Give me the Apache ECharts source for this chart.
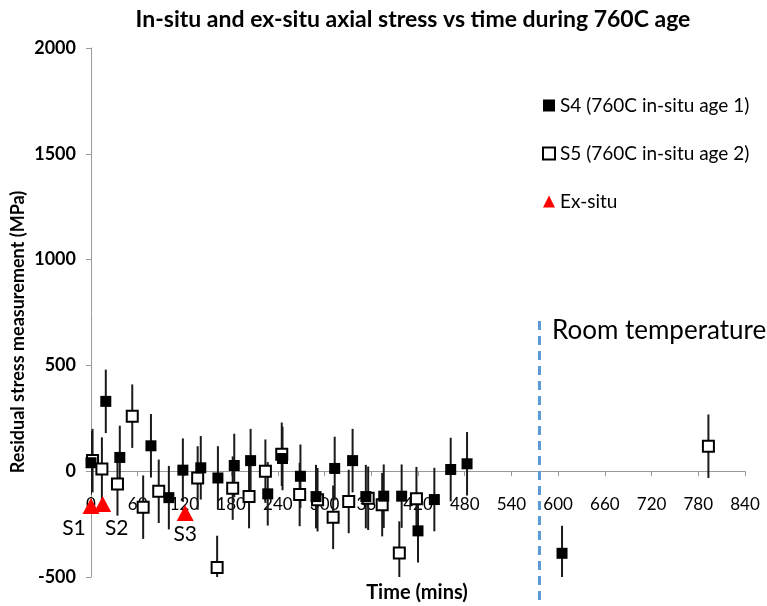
<!DOCTYPE html>
<html>
<head>
<meta charset="utf-8">
<script src="https://cdn.jsdelivr.net/npm/echarts@6/dist/echarts.min.js"></script>
<style>
  html, body { margin: 0; padding: 0; background: #fff; }
  #chart { width: 767px; height: 606px; }
</style>
</head>
<body>
<div id="chart"></div>
<script>
// S4 (760C in-situ age 1) - filled squares
const s4Time   = [0, 19, 37, 77, 100, 118, 141, 163, 184, 205, 227, 246, 269, 289, 313, 336, 353, 376, 399, 420, 441, 462, 483, 605]
const s4Stress = [40, 330, 65, 120, -125, 5, 16, -32, 27, 50, -107, 60, -24, -120, 13, 50, -120, -118, -118, -282, -134, 8, 35, -388]
const s4Err    = [150, 150, 150, 150, 150, 150, 150, 150, 150, 150, 150, 150, 150, 150, 150, 150, 150, 150, 150, 150, 150, 150, 150, 130]

// S5 (760C in-situ age 2) - open squares
const s5Time   = [2, 14, 34, 53, 67, 87, 137, 162, 182, 203, 224, 245, 268, 291, 311, 331, 356, 374, 396, 418, 793]
const s5Stress = [50, 10, -60, 260, -170, -95, -32, -455, -80, -120, 0, 80, -110, -135, -218, -143, -128, -158, -387, -130, 118]
const s5Err    = [150, 150, 150, 150, 150, 150, 150, 150, 150, 150, 150, 150, 150, 150, 150, 150, 150, 150, 150, 150, 150]

// Ex-situ measurements
const exTime   = [0, 15, 121]
const exStress = [-165, -155, -197]
const exLabels = ['S1', 'S2', 'S3']

// room temperature divider
const rtTime  = 576
const rtRange = [710, -615]

const xTicks = { min: 0, max: 840, step: 60 }
const yTicks = { min: -500, max: 2000, step: 500 }

const FONT = 'Lato'

const GRID = { left: 91, right: 22, top: 48, bottom: 29 }
const PLOT_H = 606 - GRID.top - GRID.bottom

const toPoints = (t, v, e) => t.map((x, i) => e ? [x, v[i], e[i]] : [x, v[i]])

// 误差线
function errorBars(points, z) {
  return {
    type: 'custom',
    silent: true,
    z: z,
    clip: true,
    data: points,
    renderItem: (params, api) => {
      const x = api.value(0), y = api.value(1), e = api.value(2)
      const top = api.coord([x, y + e])
      const bot = api.coord([x, y - e])
      return {
        type: 'line',
        shape: { x1: top[0], y1: top[1], x2: bot[0], y2: bot[1] },
        style: { stroke: '#1a1a1a', lineWidth: 2 }
      }
    }
  }
}

// x轴放在 y=0 处
const zeroOffset = -PLOT_H * (0 - yTicks.min) / (yTicks.max - yTicks.min)

const chart = echarts.init(document.getElementById('chart'))

const option = {
  animation: false,
  backgroundColor: '#fff',
  textStyle: { fontFamily: FONT },
  title: {
    text: 'In-situ and ex-situ axial stress vs time during 760C age',
    left: 408,
    top: 3,
    textAlign: 'center',
    textStyle: { fontFamily: FONT, fontSize: 23, fontWeight: 'bold', color: '#000' }
  },
  grid: { ...GRID, containLabel: false, outerBoundsMode: 'none' },
  legend: {
    orient: 'vertical',
    left: 537,
    top: 91,
    itemWidth: 12,
    itemHeight: 12,
    itemGap: 29,
    textStyle: { fontFamily: FONT, fontSize: 19, color: '#000' },
    data: [
      { name: 'S4 (760C in-situ age 1)', icon: 'rect' },
      { name: 'S5 (760C in-situ age 2)', icon: 'rect' },
      { name: 'Ex-situ', icon: 'triangle' }
    ]
  },
  xAxis: {
    type: 'value',
    min: xTicks.min,
    max: xTicks.max,
    interval: xTicks.step,
    position: 'bottom',
    offset: zeroOffset,
    splitLine: { show: false },
    axisLine: { onZero: false, lineStyle: { color: '#999', width: 1 } },
    axisTick: { show: true, length: 5, inside: false, lineStyle: { color: '#999' } },
    axisLabel: { margin: 25, fontFamily: FONT, fontSize: 17, color: '#000' }
  },
  yAxis: {
    type: 'value',
    min: yTicks.min,
    max: yTicks.max,
    interval: yTicks.step,
    splitLine: { show: false },
    axisLine: { show: true, lineStyle: { color: '#999', width: 1 } },
    axisTick: { show: true, length: 5, lineStyle: { color: '#999' } },
    axisLabel: {
      margin: 15,
      fontFamily: FONT,
      fontSize: 18,
      fontWeight: 'bold',
      color: '#000',
      formatter: v => String(v)
    }
  },
  graphic: [
    {
      type: 'text',
      x: 18, y: 332,
      rotation: Math.PI / 2,
      style: {
        text: 'Residual stress measurement (MPa)',
        font: 'bold 18px ' + FONT,
        fill: '#000',
        align: 'center',
        verticalAlign: 'middle'
      }
    },
    {
      type: 'text',
      x: 417, y: 593,
      style: {
        text: 'Time (mins)',
        font: 'bold 20px ' + FONT,
        fill: '#000',
        align: 'center',
        verticalAlign: 'middle'
      }
    },
    {
      type: 'text',
      x: 552, y: 331,
      style: {
        text: 'Room temperature',
        font: '26px ' + FONT,
        fill: '#000',
        align: 'left',
        verticalAlign: 'middle'
      }
    }
  ],
  series: [
    errorBars(toPoints(s5Time, s5Stress, s5Err), 1),
    errorBars(toPoints(s4Time, s4Stress, s4Err), 1),
    {
      name: 'Room temperature',
      type: 'line',
      clip: false,
      silent: true,
      symbol: 'none',
      z: 1,
      data: rtRange.map(v => [rtTime, v]),
      lineStyle: { color: '#5b9bd5', width: 3, type: [9, 6] }
    },
    {
      name: 'S5 (760C in-situ age 2)',
      type: 'scatter',
      symbol: 'rect',
      symbolSize: 11,
      z: 3,
      data: toPoints(s5Time, s5Stress),
      itemStyle: { color: '#fff', borderColor: '#000', borderWidth: 2, opacity: 1 }
    },
    {
      name: 'S4 (760C in-situ age 1)',
      type: 'scatter',
      symbol: 'rect',
      symbolSize: 11,
      z: 4,
      data: toPoints(s4Time, s4Stress),
      itemStyle: { color: '#000', opacity: 1 }
    },
    {
      name: 'Ex-situ',
      type: 'scatter',
      symbol: 'triangle',
      symbolSize: [17, 16],
      z: 5,
      itemStyle: { color: '#ff0000', opacity: 1 },
      data: exTime.map((t, i) => ({
        value: [t, exStress[i]],
        label: {
          show: true,
          formatter: exLabels[i],
          position: 'bottom',
          offset: [[-17, -1], [14, 1], [0, -2]][i],
          fontFamily: FONT,
          fontSize: 21,
          color: '#000'
        }
      }))
    }
  ]
}

chart.setOption(option)
</script>
</body>
</html>
